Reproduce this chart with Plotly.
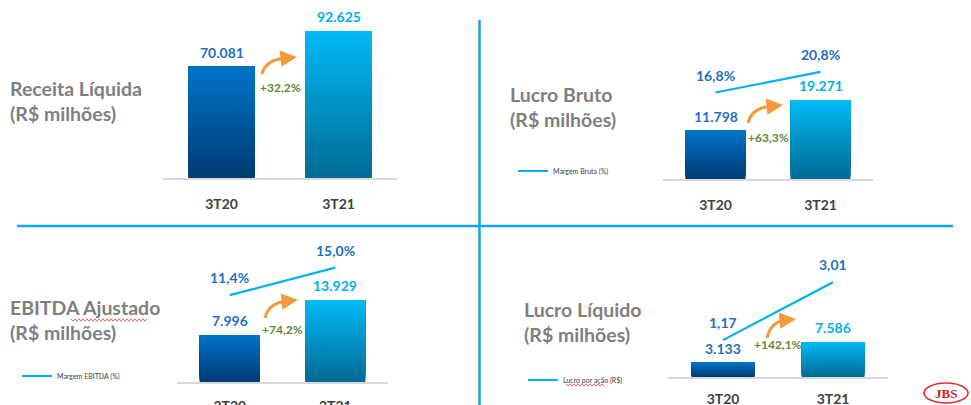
import plotly.graph_objects as go

W, H = 971, 405


def X(px):
    return px / W


def Y(py):
    return 1 - py / H


# ---------------- data ----------------
periods = ["3T20", "3T21"]
receita_liquida = [70081, 92625]
lucro_bruto = [11798, 19271]
margem_bruta = [16.8, 20.8]
ebitda_ajustado = [7996, 13929]
margem_ebitda = [11.4, 15.0]
lucro_liquido = [3133, 7586]
lucro_por_acao = [1.17, 3.01]
growth_pct = [32.2, 63.3, 74.2, 142.1]
titles = ["Receita Líquida", "Lucro Bruto", "EBITDA Ajustado", "Lucro Líquido"]
subtitle = "(R$ milhões)"
line_names = [None, "Margem Bruta (%)", "Margem EBITDA (%)", "Lucro por ação (R$)"]


def br_int(v):
    return f"{v:,}".replace(",", ".")


def br_pct(v):
    return f"{v:.1f}".replace(".", ",") + "%"


def br_dec(v):
    return f"{v:.2f}".replace(".", ",")


# ---------------- layout config (positions / styles) ----------------
panels = [
    dict(bars=receita_liquida, line=None, fmt=None,
         xdom=(163, 397), ydom=(178, 20), yr=99560, lr=None,
         title_xy=(8, 101), arrow=((262, 74), (297, 57)), growth_y=88,
         legend_xy=None, standoff=12),
    dict(bars=lucro_bruto, line=margem_bruta, fmt=br_pct,
         xdom=(663, 873), ydom=(179, 40), yr=33900, lr=27.0,
         title_xy=(508, 107), arrow=((748, 123), (783, 105)), growth_y=137,
         legend_xy=(513, 171), standoff=12),
    dict(bars=ebitda_ajustado, line=margem_ebitda, fmt=br_pct,
         xdom=(177, 388), ydom=(382, 240), yr=24120, lr=18.63,
         title_xy=(8, 320), arrow=((265, 318), (298, 300)), growth_y=329,
         legend_xy=(17, 376), standoff=10),
    dict(bars=lucro_liquido, line=lucro_por_acao, fmt=br_dec,
         xdom=(668, 888), ydom=(377, 240), yr=29690, lr=4.35,
         title_xy=(522, 322), arrow=((767, 338), (796, 319)), growth_y=344,
         legend_xy=(523, 380), standoff=8),
]

c20_top, c20_bot = (0, 116, 200), (0, 58, 115)
c21_top, c21_bot = (0, 186, 246), (0, 106, 148)
label_c20 = "#1f6fc0"
label_c21 = "#00b0f0"
line_label_c = "#1f6fc0"
line_c = "#00b0f0"
green = "#5a8a3a"
orange = "#f39a3a"
gray_title = "#7f7f7f"
cat_c = "#404040"
FONT = "Lato"


def lerp(a, b, t):
    return "rgb(%d,%d,%d)" % tuple(round(a[i] + (b[i] - a[i]) * t) for i in range(3))


def wavy(x0, x1, y, amp=1.2, step=2.0):
    pts = []
    x = x0
    k = 0
    while x <= x1:
        pts.append(f"{X(x)},{Y(y + (amp if k % 2 else -amp))}")
        x += step
        k += 1
    return "M " + " L ".join(pts)


fig = go.Figure()
annotations = []
shapes = []
legend_keys = [None, "legend", "legend2", "legend3"]
N = 40

for i, p in enumerate(panels):
    n = i + 1
    xa = "x" if n == 1 else f"x{n}"
    ya = "y" if n == 1 else f"y{n}"
    vals = p["bars"]
    # gradient bars: stacked overlay slices, lower slices drawn first
    for k in range(N):
        frac = k / N
        t = (k + 0.5) / N
        fig.add_bar(
            x=periods,
            y=[v * (1 - frac) for v in vals],
            base=[v * frac for v in vals],
            marker=dict(color=[lerp(c20_bot, c20_top, t), lerp(c21_bot, c21_top, t)],
                        line=dict(width=0)),
            width=0.57, xaxis=xa, yaxis=ya, showlegend=False, hoverinfo="skip",
        )
    # value labels
    for j, v in enumerate(vals):
        annotations.append(dict(
            x=periods[j], y=v, xref=xa, yref=ya, text=br_int(v), showarrow=False,
            xanchor="center", yanchor="bottom", yshift=4,
            font=dict(family=FONT, size=14, weight=700,
                      color=label_c20 if j == 0 else label_c21)))
    # line on secondary axis
    if p["line"] is not None:
        ly = f"y{4 + i}"
        fig.add_scatter(
            x=periods, y=p["line"], mode="lines", name=line_names[i],
            line=dict(color=line_c, width=2.2), xaxis=xa, yaxis=ly,
            legend=legend_keys[i], showlegend=True, hoverinfo="skip")
        for j, v in enumerate(p["line"]):
            annotations.append(dict(
                x=periods[j], y=v, xref=xa, yref=ly, text=p["fmt"](v), showarrow=False,
                xanchor="center", yanchor="bottom", yshift=7,
                font=dict(family=FONT, size=14, weight=700, color=line_label_c)))
        fig.update_layout(**{
            f"yaxis{4 + i}": dict(overlaying=ya, anchor=xa, range=[0, p["lr"]],
                                  visible=False, fixedrange=True, automargin=False)})
        lx, lyy = p["legend_xy"]
        fig.update_layout(**{legend_keys[i]: dict(
            x=X(lx), y=Y(lyy), xanchor="left", yanchor="middle",
            font=dict(family=FONT, size=7, color=cat_c),
            bgcolor="rgba(0,0,0,0)", borderwidth=0, itemwidth=30)})
    # axes
    xkey = "xaxis" if n == 1 else f"xaxis{n}"
    ykey = "yaxis" if n == 1 else f"yaxis{n}"
    fig.update_layout(**{
        xkey: dict(domain=[X(p["xdom"][0]), X(p["xdom"][1])], anchor=ya,
                   type="category", range=[-0.5, 1.5], showline=True,
                   linecolor="#d9d9d9", linewidth=1.5, showgrid=False, zeroline=False,
                   ticks="", ticklabelstandoff=p["standoff"], fixedrange=True,
                   automargin=False,
                   tickfont=dict(family=FONT, size=14, weight=700, color=cat_c)),
        ykey: dict(domain=[Y(p["ydom"][0]), Y(p["ydom"][1])], anchor=xa,
                   range=[0, p["yr"]], visible=False, fixedrange=True, automargin=False),
    })
    # title
    tx, ty = p["title_xy"]
    annotations.append(dict(
        x=X(tx), y=Y(ty), xref="paper", yref="paper", xanchor="left", yanchor="middle",
        align="left", showarrow=False, text=f"{titles[i]}<br>{subtitle}",
        font=dict(family=FONT, size=19.5, weight=700, color=gray_title)))
    # growth label
    annotations.append(dict(
        x=0.5, y=Y(p["growth_y"]), xref=xa, yref="paper", showarrow=False,
        xanchor="center", yanchor="middle",
        text="+" + f"{growth_pct[i]:.1f}".replace(".", ",") + "%",
        font=dict(family=FONT, size=12, weight=700, color=green)))
    # curved orange arrow
    (tx0, ty0), (hx, hy) = p["arrow"]
    shapes.append(dict(
        type="path", xref="paper", yref="paper",
        path=f"M {X(tx0)},{Y(ty0)} Q {X(tx0 + 4)},{Y(hy + 1)} {X(hx - 7)},{Y(hy + 1)}",
        line=dict(color=orange, width=3)))
    annotations.append(dict(
        x=X(hx), y=Y(hy), xref="paper", yref="paper", ax=-10, ay=1, text="",
        showarrow=True, arrowhead=2, arrowsize=1.1, arrowwidth=3, arrowcolor=orange))

# spell-check squiggles seen in the slide
shapes.append(dict(type="path", xref="paper", yref="paper", path=wavy(71, 148, 320),
                   line=dict(color="#e04040", width=0.8)))
shapes.append(dict(type="path", xref="paper", yref="paper", path=wavy(566, 604, 385),
                   line=dict(color="#e04040", width=0.8)))

# dividers
shapes.append(dict(type="line", xref="paper", yref="paper", x0=X(479.5), x1=X(479.5),
                   y0=Y(20), y1=0, line=dict(color="#0fa8ea", width=2.5)))
shapes.append(dict(type="line", xref="paper", yref="paper", x0=X(17), x1=X(953),
                   y0=Y(226), y1=Y(226), line=dict(color="#0fa8ea", width=2.5)))

# JBS logo
shapes.append(dict(type="circle", xref="paper", yref="paper", x0=X(924), x1=X(968),
                   y0=Y(403), y1=Y(383), line=dict(color="#e03030", width=1.6),
                   fillcolor="white", layer="below"))
annotations.append(dict(x=X(946), y=Y(393), xref="paper", yref="paper", showarrow=False,
                        xanchor="center", yanchor="middle",
                        text="JBS", font=dict(family="Liberation Serif", size=13,
                                              weight=700, color="#d42020")))

fig.update_layout(
    width=W, height=H, margin=dict(l=0, r=0, t=0, b=0, autoexpand=False),
    paper_bgcolor="white", plot_bgcolor="rgba(0,0,0,0)",
    barmode="overlay", annotations=annotations, shapes=shapes,
)

# remove the default page margin so the 971x405 figure fills the window exactly
fig.write_html(
    "out.html",
    config={"displayModeBar": False},
    post_script="document.body.style.margin='0px';document.body.style.overflow='hidden';",
)
